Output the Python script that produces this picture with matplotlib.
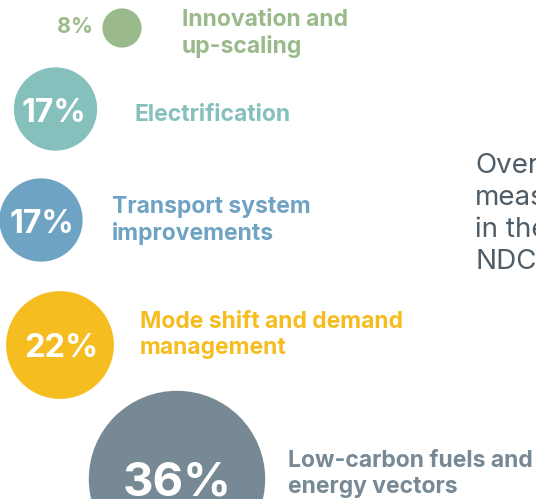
import matplotlib.pyplot as plt
from matplotlib.patches import Circle

# share of mitigation measures by category
categories = ['Innovation and\nup-scaling', 'Electrification', 'Transport system\nimprovements',
              'Mode shift and demand\nmanagement', 'Low-carbon fuels and\nenergy vectors']
shares = [8, 17, 17, 22, 36]
colors = ['#9bba8b', '#86c0bd', '#6fa3c4', '#f6bd20', '#778994']
side_note = 'Overall\nmeasures\nin the\nNDCs'

# layout (pixel coordinates); label_base = baseline of the last line
centers = [(122, 28), (55.5, 109), (41, 220), (60, 345), (177, 479)]
pct_pos = [(93, 33), (53.5, 122), (41.5, 233), (61.5, 357), (177.5, 496)]
pct_size = [15.5, 23, 23, 23.5, 34]
label_x = [182, 135, 112, 140, 288]
label_base = [53, 121, 240, 354, 493]
r_per_pct = 2.45

plt.rcParams['font.family'] = ['Inter', 'DejaVu Sans']
fig = plt.figure(figsize=(5.36, 4.99), dpi=100)
ax = fig.add_axes([0, 0, 1, 1])
ax.set_xlim(0, 536)
ax.set_ylim(499, 0)
ax.set_aspect('equal')
ax.axis('off')

for i, (cat, val, col) in enumerate(zip(categories, shares, colors)):
	cx, cy = centers[i]
	ax.add_patch(Circle((cx, cy), val * r_per_pct, color=col, lw=0))
	px, py = pct_pos[i]
	if i == 0:
		# small bubble: percentage sits outside on the left
		ax.text(px, py, f'{val}%', color=col, fontsize=pct_size[i],
			fontweight='bold', ha='right', va='baseline')
	else:
		ax.text(px, py, f'{val}%', color='white', fontsize=pct_size[i],
			fontweight='bold', ha='center', va='baseline')
	ax.text(label_x[i], label_base[i], cat, color=col, fontsize=16.5, fontweight='bold',
		ha='left', va='baseline', linespacing=1.24)

ax.text(475, 269, side_note, color='#4d5c66', fontsize=20, ha='left', va='baseline',
	linespacing=1.3)

fig.savefig('out.png', dpi=100)
